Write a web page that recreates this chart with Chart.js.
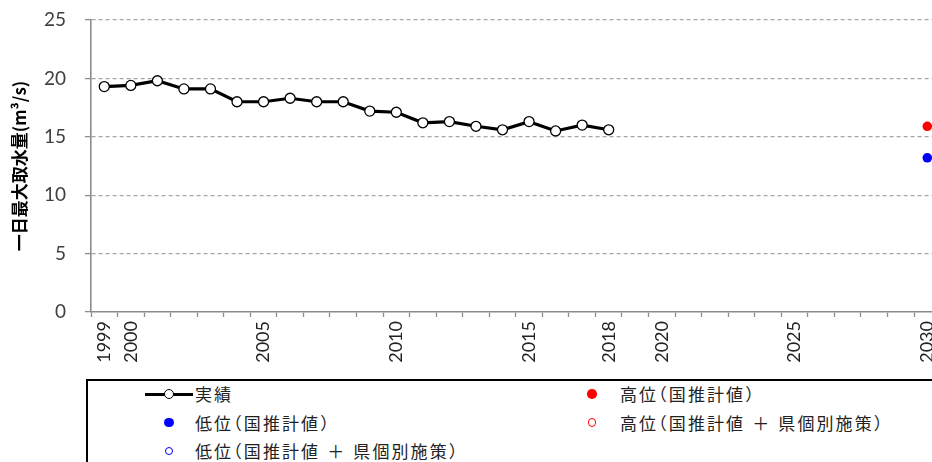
<!DOCTYPE html>
<html>
<head>
<meta charset="utf-8">
<title>一日最大取水量</title>
<script src="https://cdn.jsdelivr.net/npm/chart.js@4.4.1/dist/chart.umd.min.js"></script>
<style>
    html, body { margin: 0; padding: 0; background: #fff; overflow: hidden; width: 932px; height: 462px; }
    #wrap { position: absolute; left: 0; top: 0; width: 952px; height: 372px; }
    #legendBox {
        position: absolute; left: 86px; top: 379px; width: 900px; height: 120px;
        border: 2px solid #000; box-sizing: border-box;
        font-family: "Noto Sans CJK JP", sans-serif; font-size: 17px; color: #222;
        font-feature-settings: "halt";
    }
    .item { position: absolute; height: 28px; line-height: 28px; white-space: nowrap; }
    .mark { position: absolute; top: 14px; }
    .txt { position: absolute; top: 0; letter-spacing: 2.1px; }
    .plus { margin: 0 7px; }
</style>
</head>
<body>
<div id="wrap"><canvas id="waterChart"></canvas></div>
<div id="legendBox"></div>
<script>
// years on the x axis
const years = ["1999", "2000", "2001", "2002", "2003", "2004", "2005", "2006", "2007", "2008",
    "2009", "2010", "2011", "2012", "2013", "2014", "2015", "2016", "2017", "2018",
    "2019", "2020", "2021", "2022", "2023", "2024", "2025", "2026", "2027", "2028", "2029", "2030"];
const shownYears = ["1999", "2000", "2005", "2010", "2015", "2018", "2020", "2025", "2030"];

// 実績 1999-2018
const actualValues = [19.3, 19.4, 19.8, 19.1, 19.1, 18.0, 18.0, 18.3, 18.0, 18.0,
    17.2, 17.1, 16.2, 16.3, 15.9, 15.6, 16.3, 15.5, 16.0, 15.6];

// 2030 推計値
const targetYear = "2030";
const highNational = [15.9];
const lowNational = [13.2];
const highPrefecture = [];
const lowPrefecture = [];

const yTicks = [0, 5, 10, 15, 20, 25];

const actualData = actualValues.map(function(v, i) { return { x: years[i], y: v }; });
const toPoints = function(arr) { return arr.map(function(v) { return { x: targetYear, y: v }; }); };

const canvasH = 372;
const plotTop = 20;
const plotBottom = 312;
const plotRight = 941;

const wrap = document.getElementById("wrap");
const ctx = document.getElementById("waterChart").getContext("2d");
const chart = new Chart(ctx, {
    type: "line",
    data: {
        labels: years,
        datasets: [
            {
                label: "実績",
                data: actualData,
                borderColor: "#000",
                borderWidth: 3.2,
                pointRadius: 5,
                pointBorderWidth: 1.3,
                pointBorderColor: "#000",
                pointBackgroundColor: "#fff",
                tension: 0
            },
            {
                label: "高位（国推計値）",
                data: toPoints(highNational),
                showLine: false,
                pointRadius: 4.8,
                pointBorderWidth: 0,
                pointBackgroundColor: "#ff0000",
                pointBorderColor: "#ff0000"
            },
            {
                label: "低位（国推計値）",
                data: toPoints(lowNational),
                showLine: false,
                pointRadius: 4.8,
                pointBorderWidth: 0,
                pointBackgroundColor: "#0000ff",
                pointBorderColor: "#0000ff"
            },
            {
                label: "高位（国推計値＋県個別施策）",
                data: toPoints(highPrefecture),
                showLine: false,
                pointRadius: 4.4,
                pointBorderWidth: 1.2,
                pointBackgroundColor: "#fff",
                pointBorderColor: "#ff0000"
            },
            {
                label: "低位（国推計値＋県個別施策）",
                data: toPoints(lowPrefecture),
                showLine: false,
                pointRadius: 4.4,
                pointBorderWidth: 1.2,
                pointBackgroundColor: "#fff",
                pointBorderColor: "#0000ff"
            }
        ]
    },
    options: {
        responsive: true,
        maintainAspectRatio: false,
        animation: false,
        layout: { padding: { top: plotTop, left: 0, right: 0, bottom: 0 } },
        plugins: {
            legend: { display: false },
            tooltip: { enabled: false }
        },
        scales: {
            x: {
                type: "category",
                offset: true,
                grid: {
                    offset: true,
                    drawOnChartArea: false,
                    tickLength: 5,
                    tickColor: "#8c8c8c",
                    tickWidth: 1.3
                },
                border: { color: "#8c8c8c", width: 1.6 },
                ticks: {
                    autoSkip: false,
                    minRotation: 90,
                    maxRotation: 90,
                    padding: 4,
                    color: "#222",
                    font: { family: "Lato", size: 18 },
                    callback: function(value) {
                        const lbl = this.getLabelForValue(value);
                        return shownYears.includes(lbl) ? lbl : "";
                    }
                },
                afterFit: function(scale) { scale.height = canvasH - plotBottom; }
            },
            y: {
                min: 0,
                max: 25,
                afterBuildTicks: function(scale) {
                    scale.ticks = yTicks.map(function(v) { return { value: v }; });
                },
                grid: {
                    color: function(c) { return c.tick && c.tick.value === 0 ? "rgba(0,0,0,0)" : "#a6a6a6"; },
                    lineWidth: 1.2,
                    tickLength: 6,
                    tickColor: "#8c8c8c",
                    tickWidth: 1.3
                },
                border: { color: "#8c8c8c", width: 1.6, dash: [4, 3] },
                ticks: {
                    padding: 19,
                    color: "#404040",
                    font: { family: "Lato", size: 19 }
                },
                title: {
                    display: true,
                    text: "一日最大取水量(m³/s)",
                    color: "#000",
                    font: { family: "Noto Sans CJK JP", size: 17, weight: "bold" },
                    padding: { top: 9, bottom: 0 }
                },
                afterFit: function(scale) {
                    scale.width = 91;
                    // the big label padding should not push the plot down
                    scale.paddingTop = 0;
                    scale.paddingBottom = 0;
                }
            }
        }
    }
});

// widen the canvas until the plot reaches its right edge (it runs past the window)
for (let k = 0; k < 3; k++) {
    const diff = plotRight - chart.chartArea.right;
    if (Math.abs(diff) < 0.5) break;
    wrap.style.width = (wrap.offsetWidth + Math.round(diff)) + "px";
    chart.resize();
}

// legend drawn as html, two columns
function buildLegend(ch) {
    const box = document.getElementById("legendBox");
    const colMark = [81, 504];
    const colText = [107, 532];
    ch.data.datasets.forEach(function(ds, i) {
        const col = i % 2;
        const row = Math.floor(i / 2);
        const item = document.createElement("div");
        item.className = "item";
        item.style.left = "0px";
        item.style.top = (row * 28.5 - 1) + "px";

        const mark = document.createElement("div");
        mark.className = "mark";
        if (ds.showLine === false) {
            const d = ds.pointRadius * 2;
            mark.style.left = (colMark[col] - ds.pointRadius) + "px";
            mark.style.marginTop = (-ds.pointRadius) + "px";
            mark.style.width = d + "px";
            mark.style.height = d + "px";
            mark.style.boxSizing = "border-box";
            mark.style.borderRadius = "50%";
            mark.style.background = ds.pointBackgroundColor;
            if (ds.pointBorderWidth) mark.style.border = ds.pointBorderWidth + "px solid " + ds.pointBorderColor;
        } else {
            mark.style.left = (colMark[col] - 24) + "px";
            mark.style.width = "48px";
            mark.style.height = "0px";
            const ln = document.createElement("div");
            ln.style.cssText = "position:absolute;left:0;top:-1.5px;width:48px;height:3px;background:" + ds.borderColor;
            const dot = document.createElement("div");
            const r = ds.pointRadius;
            dot.style.cssText = "position:absolute;box-sizing:border-box;border-radius:50%;left:" + (24 - r) + "px;top:" + (-r) +
                "px;width:" + (2 * r) + "px;height:" + (2 * r) + "px;background:" + ds.pointBackgroundColor +
                ";border:" + ds.pointBorderWidth + "px solid " + ds.pointBorderColor;
            mark.appendChild(ln);
            mark.appendChild(dot);
        }
        item.appendChild(mark);

        const txt = document.createElement("span");
        txt.className = "txt";
        txt.style.left = colText[col] + "px";
        ds.label.split("＋").forEach(function(part, j) {
            if (j > 0) {
                const plus = document.createElement("span");
                plus.className = "plus";
                plus.textContent = "＋";
                txt.appendChild(plus);
            }
            txt.appendChild(document.createTextNode(part));
        });
        item.appendChild(txt);
        box.appendChild(item);
    });
}
buildLegend(chart);
</script>
</body>
</html>
